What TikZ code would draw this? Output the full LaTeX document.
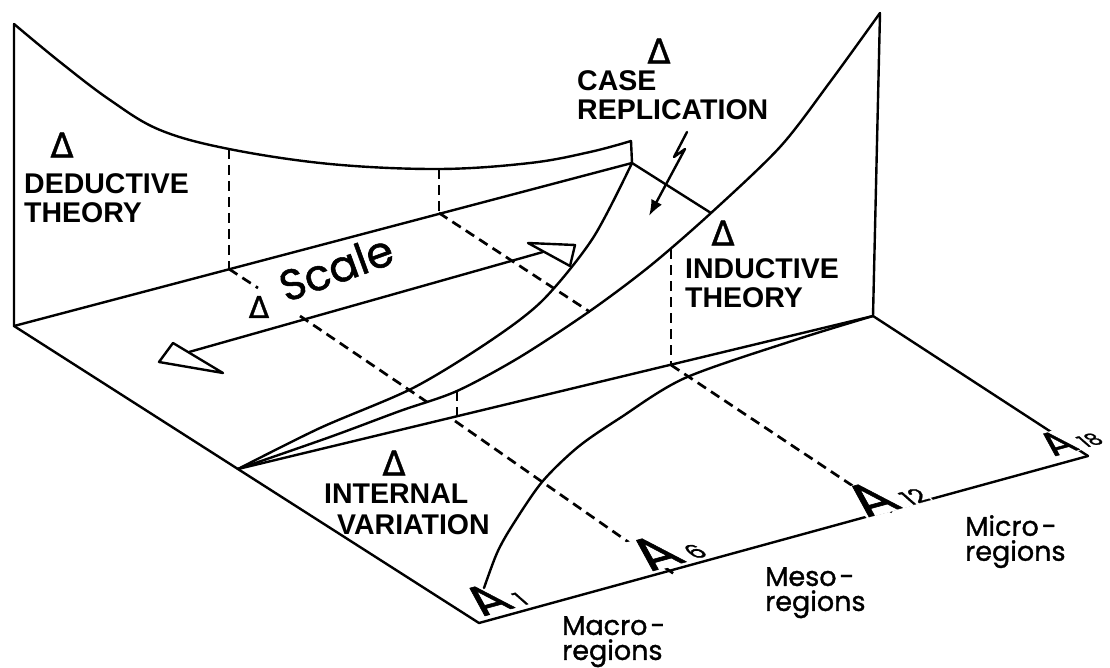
\documentclass[tikz,border=0pt]{standalone}
\usepackage{fontspec}
\setmainfont{Liberation Sans}
\newfontfamily\labfont{Poppins}[FakeBold=1.2]
\newfontfamily\dejab{DejaVu Sans}[FakeBold=1]
\usetikzlibrary{arrows.meta}
\begin{document}
\begin{tikzpicture}[x=1pt,y=-1pt,line width=2.4pt,line join=round,line cap=round,
  capl/.style={font=\fontsize{28.5}{29}\selectfont\bfseries,inner sep=0pt,align=left,anchor=north west},
  delt/.style={font=\dejab\fontsize{34}{34}\selectfont,inner sep=0pt},
  lowl/.style={font=\labfont\fontsize{27}{25}\selectfont,inner sep=0pt,align=left,anchor=north west},
  dsh/.style={line cap=butt,line width=2.7pt,dash pattern=on 10pt off 6pt},
  flr/.style={transform shape,cm={1.25,0.34,-1.0,0.88,(0,0)},inner sep=0.6pt,anchor=base west}]
\useasboundingbox (0,0) rectangle (1110,668);
\fill[white] (0,0) rectangle (1110,668);
% key points
\coordinate (TL) at (14,24);
\coordinate (BL) at (14,326);
\coordinate (FL) at (479,623);
\coordinate (FR) at (1088,456);
\coordinate (BR) at (632,163);
\coordinate (BRt) at (631,141);
\coordinate (RT) at (880,13);
\coordinate (RB) at (873,316);
\coordinate (AP) at (238,469);
\coordinate (Xb) at (711,213);
\coordinate (D1) at (484,588);
% deductive wall
\draw plot[smooth,tension=0.6] coordinates {(TL) (60,62) (110,100) (160,130) (229,149) (330,164) (439,169) (530,163) (590,152) (BRt)};
\draw (TL) -- (BL) -- (FL) -- (FR);
\draw (BL) -- (BR) -- (BRt);
\draw (BR) -- (Xb);
\draw (RT) -- (RB) -- (FR);
\draw (AP) -- (RB);
% curved surfaces
\draw plot[smooth] coordinates {(AP) (320,428) (413,388) (490,341) (543,300) (593,238) (BR)};
\draw plot[smooth] coordinates {(AP) (330,437) (400,411) (457,391) (520,357) (590,311) (650,266) (Xb) (780,147) (830,82) (RT)};
\draw plot[smooth] coordinates {(D1) (497,553) (512,526) (542,482) (578,447) (620,418) (685,378) (795,340) (RB)};
% dashed projections
\coordinate (P1t) at (229,149); \coordinate (P1b) at (229,269);
\coordinate (P2t) at (439,169); \coordinate (P2b) at (439,213);
\coordinate (Q1) at (258,288); \coordinate (Q2) at (300,316); \coordinate (Q3) at (427,402);
\coordinate (Q4) at (455,421); \coordinate (E6) at (677,576);
\coordinate (V6t) at (457,391); \coordinate (V6b) at (457,421);
\coordinate (R1) at (590,312); \coordinate (R2) at (671,365); \coordinate (E12) at (892,512);
\coordinate (V12t) at (671,249);
\draw[dsh] (P1t) -- (P1b);
\draw[dsh] (P2t) -- (P2b);
\draw[dsh] (P1b) -- (Q1);
\draw[dsh] (Q2) -- (Q3);
\draw[dsh] (Q4) -- (E6);
\draw[dsh] (V6t) -- (V6b);
\draw[dsh] (P2b) -- (R1);
\draw[dsh] (R2) -- (E12);
\draw[dsh] (V12t) -- (R2);
% scale arrow
\coordinate (SL) at (189,352); \coordinate (SR) at (543,252);
\draw (SL) -- (SR);
\draw (159,362) -- (173,343) -- (223,373) -- cycle;
\draw (528,243) -- (575,245) -- (570,266) -- cycle;
% lightning arrow
\coordinate (L1) at (687,132); \coordinate (L2) at (674,157);
\coordinate (L3) at (685,149); \coordinate (L4) at (649,216);
\draw[-{Latex[length=16pt,width=12pt]}] (L1) -- (L2) -- (L3) -- (L4);
% labels
\node[delt] (tD) at (62,145) {Δ};
\node[capl] (lD) at (23,172) {DEDUCTIVE\\THEORY};
\node[delt] (tC) at (659,51) {Δ};
\node[capl] (lC) at (576,69) {CASE\\REPLICATION};
\node[delt] (tI) at (723,233) {Δ};
\node[capl] (lI) at (684,257) {INDUCTIVE\\THEORY};
\node[delt] (tV) at (394,463) {Δ};
\node[capl] (lV1) at (323,483) {INTERNAL};
\node[capl] (lV2) at (336,513) {VARIATION};
\node[delt,font=\dejab\fontsize{30}{30}\selectfont] (tS) at (259,307) {Δ};
\node[font=\labfont\fontsize{43}{43}\selectfont,rotate=20,anchor=base west,inner sep=0pt] (lS) at (285,303) {Scale};
\node[lowl] (lMa) at (561,615) {Macro\kern3pt-\\regions};
\node[lowl] (lMe) at (764,566) {Meso\kern3pt-\\regions};
\node[lowl] (lMi) at (964,514) {Micro\kern3pt-\\regions};
% floor labels
\begin{scope}[shift={(481,617)}]
\node[flr,font=\labfont\fontsize{40}{40}\selectfont] (a1) at (0,0) {A\kern5pt{\fontsize{18}{18}\selectfont 1}};
\end{scope}
\begin{scope}[shift={(649,572)}]
\node[flr,fill=white,font=\labfont\fontsize{44}{44}\selectfont] (a6) at (0,0) {A\kern5pt{\fontsize{19}{19}\selectfont 6}};
\end{scope}
\begin{scope}[shift={(865,518)}]
\node[flr,fill=white,font=\labfont\fontsize{44}{44}\selectfont] (a12) at (0,0) {A\kern5pt{\fontsize{19}{19}\selectfont 12}};
\end{scope}
\begin{scope}[shift={(1052,457)}]
\node[flr,fill=white,font=\labfont\fontsize{32}{32}\selectfont] (a18) at (0,0) {A\kern4pt{\fontsize{16}{16}\selectfont 18}};
\end{scope}
\end{tikzpicture}
\end{document}
